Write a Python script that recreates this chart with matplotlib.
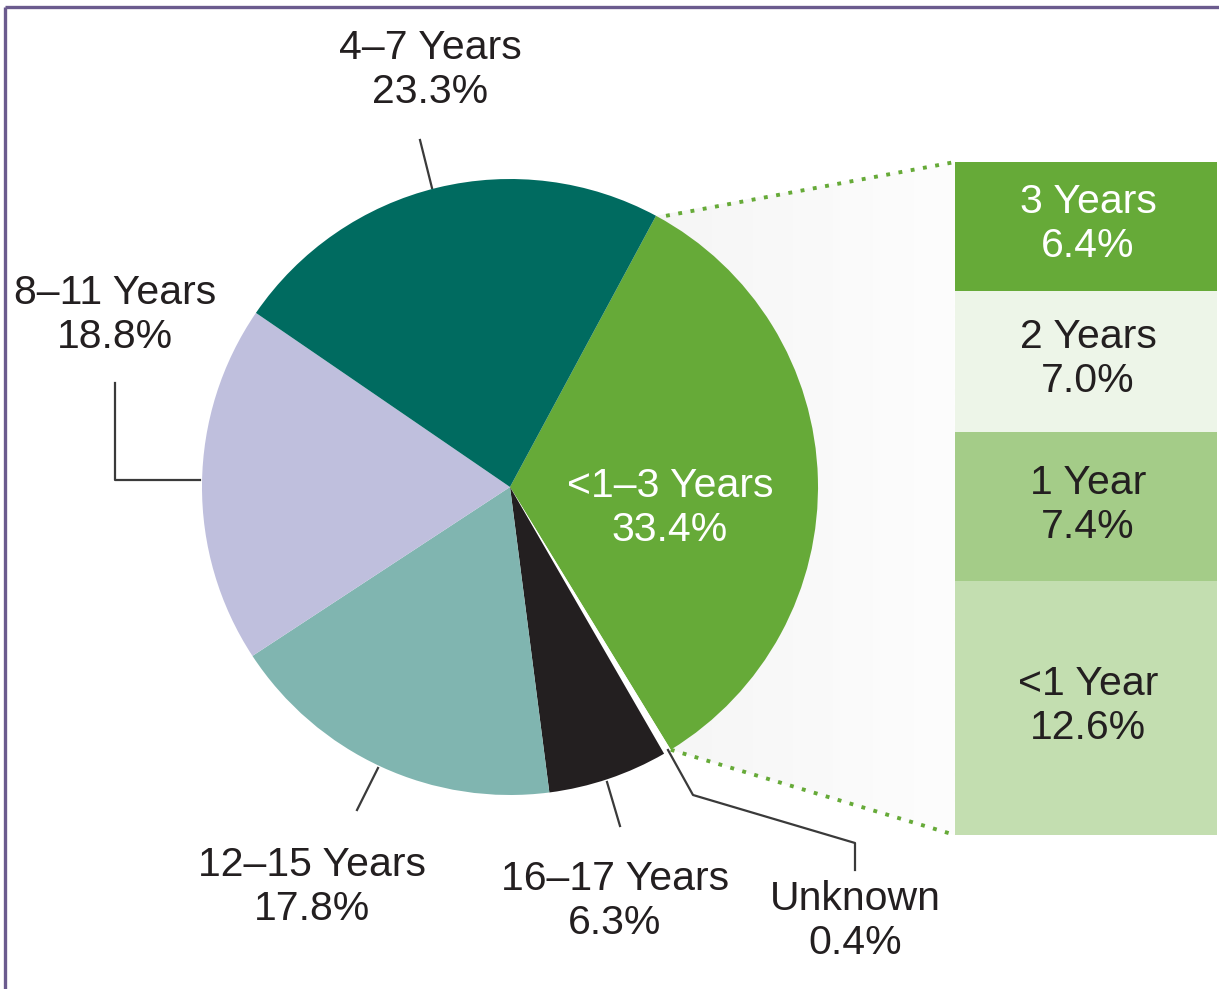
import numpy as np
import matplotlib
matplotlib.use("Agg")
import matplotlib.pyplot as plt
from matplotlib.patches import Polygon
from matplotlib.colors import LinearSegmentedColormap

plt.rcParams['font.family'] = ['Liberation Sans', 'DejaVu Sans']

# ---- data ----
pie_labels = ['<1–3 Years', 'Unknown', '16–17 Years', '12–15 Years', '8–11 Years', '4–7 Years']
pie_values = [33.4, 0.4, 6.3, 17.8, 18.8, 23.3]
pie_colors = ['#66aa38', '#ffffff', '#231f20', '#80b5b0', '#bfbfdd', '#006b60']

bar_labels = ['3 Years', '2 Years', '1 Year', '<1 Year']
bar_values = [6.4, 7.0, 7.4, 12.6]
bar_colors = ['#66aa38', '#edf5e8', '#a4cc88', '#c3deb0']
bar_text_colors = ['white', '#231f20', '#231f20', '#231f20']

W, H = 1219, 989
fig = plt.figure(figsize=(W / 100, H / 100), dpi=100)
ax = fig.add_axes([0, 0, 1, 1])

FS = 29.5
LS = 1.2

def Y(yp):
    return H - yp

cx, cy, R = 510, Y(487), 308
start = 61.7

# pie
wedges, _ = ax.pie(pie_values, colors=pie_colors, startangle=start, counterclock=False,
                   center=(cx, cy), radius=R, frame=True,
                   wedgeprops=dict(linewidth=0))
for w in wedges:
    w.set_zorder(3)

# bar (stacked from bottom: last label at bottom)
bar_x0, bar_x1 = 955, 1217
bar_top, bar_bot = Y(162), Y(835)
scale = (bar_top - bar_bot) / sum(bar_values)
bottom = bar_bot
centers = {}
for lab, val, col in reversed(list(zip(bar_labels, bar_values, bar_colors))):
    h = val * scale
    ax.bar((bar_x0 + bar_x1) / 2, h, width=bar_x1 - bar_x0, bottom=bottom, color=col,
           linewidth=0, zorder=3)
    centers[lab] = bottom + h / 2
    bottom += h
for lab, val, tc in zip(bar_labels, bar_values, bar_text_colors):
    ax.text(1088, centers[lab] + 2, f"{lab}\n{val:.1f}%", ha='center', va='center',
            fontsize=FS, color=tc, linespacing=LS, zorder=5)

# connector geometry
a1 = np.deg2rad(start)
a2 = np.deg2rad(start - pie_values[0] * 3.6)
p_top = (cx + R * np.cos(a1), cy + R * np.sin(a1))
p_bot = (cx + R * np.cos(a2), cy + R * np.sin(a2))

poly = Polygon([(cx, cy), p_top, (bar_x0, bar_top), (bar_x0, bar_bot), p_bot],
               closed=True, facecolor='none', edgecolor='none')
ax.add_patch(poly)
cmap = LinearSegmentedColormap.from_list('g', ['#f2f2f2', '#fdfdfd'])
grad = np.linspace(0, 1, 256).reshape(1, -1)
im = ax.imshow(grad, extent=(cx, bar_x0, bar_bot, bar_top), cmap=cmap, aspect='auto',
               zorder=1)
im.set_clip_path(poly)

ax.plot([p_top[0] + 10, bar_x0], [p_top[1], bar_top], linestyle=(0, (1, 2.2)),
        color='#66aa38', lw=2.8, zorder=2)
ax.plot([p_bot[0], bar_x0], [p_bot[1], bar_bot], linestyle=(0, (1, 2.2)),
        color='#66aa38', lw=2.8, zorder=2)

# leader lines
lc = '#3a3a3a'
lw = 1.6
ax.plot([420, 432], [Y(140), Y(188)], color=lc, lw=lw, zorder=2)
ax.plot([115, 115, 200], [Y(383), Y(480), Y(480)], color=lc, lw=lw, zorder=2)
ax.plot([378, 357], [Y(768), Y(810)], color=lc, lw=lw, zorder=2)
ax.plot([607, 620], [Y(782), Y(826)], color=lc, lw=lw, zorder=2)
ax.plot([668, 693, 855, 855], [Y(750), Y(795), Y(843), Y(870)], color=lc, lw=lw, zorder=4)

# pie labels
label_pos = {
    '4–7 Years': (430, 70),
    '8–11 Years': (115, 315),
    '<1–3 Years': (670, 508),
    '12–15 Years': (312, 887),
    '16–17 Years': (615, 901),
    'Unknown': (855, 921),
}
for lab, val, col in zip(pie_labels, pie_values, pie_colors):
    x, yp = label_pos[lab]
    tc = 'white' if lab == '<1–3 Years' else '#231f20'
    ax.text(x, Y(yp), f"{lab}\n{val:.1f}%", ha='center', va='center', fontsize=FS,
            color=tc, linespacing=LS, zorder=5)

# frame (top and left border)
ax.plot([5, W], [Y(7), Y(7)], color='#6b5b8e', lw=2.4, zorder=6, solid_capstyle='butt')
ax.plot([5, 5], [Y(7), 0], color='#6b5b8e', lw=2.4, zorder=6, solid_capstyle='butt')

ax.set_xlim(0, W)
ax.set_ylim(0, H)
ax.set_aspect('auto')
ax.axis('off')

fig.savefig('out.png', dpi=100)
